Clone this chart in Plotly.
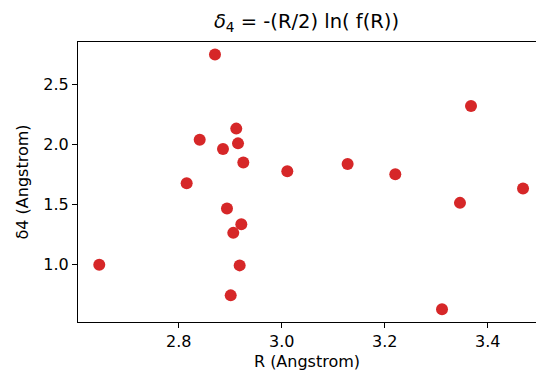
import plotly.graph_objects as go

R_values = [2.8705, 2.9118, 2.8408, 2.9152, 2.886, 2.9255, 2.8155, 2.8938, 2.9216, 2.906,
            2.6458, 2.9184, 2.901, 3.3676, 3.0109, 3.128, 3.2206, 3.4686, 3.3462, 3.3113]
delta4_values = [2.749, 2.131, 2.039, 2.008, 1.961, 1.848, 1.676, 1.465, 1.334, 1.262,
                 0.996, 0.991, 0.741, 2.319, 1.775, 1.836, 1.750, 1.631, 1.512, 0.625]
x_ticks = [2.8, 3.0, 3.2, 3.4]
y_ticks = [1.0, 1.5, 2.0, 2.5]

fig = go.Figure()
fig.add_trace(go.Scatter(
    x=R_values, y=delta4_values, mode="markers",
    marker=dict(color="#d62728", size=12, line=dict(width=0)),
    showlegend=False,
))

font = "DejaVu Sans, sans-serif"
fig.update_layout(
    width=536, height=374,
    margin=dict(l=78, r=0, t=41.5, b=52),
    paper_bgcolor="white", plot_bgcolor="white",
    font=dict(family=font, size=16, color="black"),
    title=dict(text="<i>δ</i><sub>4</sub> = -(R/2) ln( f(R))",
               x=(78 + 535) / 2 / 536, xanchor="center",
               y=1 - 21 / 374, yanchor="middle",
               font=dict(family=font, size=19.5, color="black")),
)
fig.update_xaxes(
    range=[2.6045, 3.4938], tickvals=x_ticks, ticktext=[f"{v:.1f}" for v in x_ticks],
    tickfont=dict(family=font, size=16, color="black"),
    showline=True, linecolor="black", linewidth=1.2, mirror=True,
    ticks="outside", ticklen=5, tickwidth=1, tickcolor="black",
    showgrid=False, zeroline=False,
    title=dict(text="R (Angstrom)", standoff=5, font=dict(family=font, size=16, color="black")),
)
fig.update_yaxes(
    range=[0.519, 2.853], tickvals=y_ticks, ticktext=[f"{v:.1f}" for v in y_ticks],
    tickfont=dict(family=font, size=16, color="black"),
    showline=True, linecolor="black", linewidth=1.2, mirror=False,
    ticks="outside", ticklen=5, tickwidth=1, tickcolor="black",
    showgrid=False, zeroline=False,
    title=dict(text="δ4 (Angstrom)", standoff=10, font=dict(family=font, size=16, color="black")),
)

fig.write_html("out.html")
